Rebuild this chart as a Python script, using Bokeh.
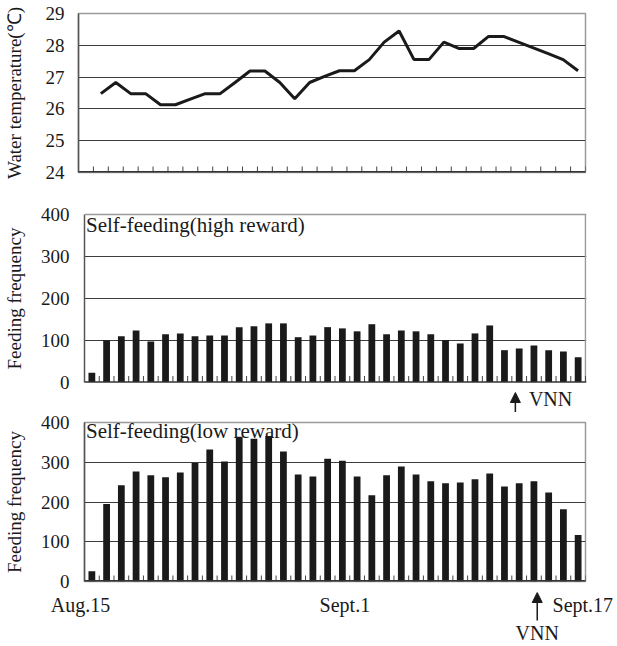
from bokeh.plotting import figure
from bokeh.layouts import column
from bokeh.models import Range1d, FixedTicker, Arrow, NormalHead, Span
from bokeh.core.properties import value
from bokeh.embed import file_html
from bokeh.resources import INLINE

# ---- data: daily values, Aug.15 .. Sept.17 (34 days) ----
n_days = 34
days = list(range(n_days))
temp_days = days[1:]  # temperature recorded from Aug.16
water_temp = [26.48, 26.83, 26.48, 26.48, 26.13, 26.13, 26.31, 26.48, 26.48, 26.83,
              27.19, 27.19, 26.83, 26.32, 26.83, 27.02, 27.20, 27.20, 27.55, 28.10,
              28.45, 27.55, 27.55, 28.10, 27.90, 27.90, 28.28, 28.28, 28.10, 27.92,
              27.74, 27.55, 27.20]
high_reward = [22, 100, 109, 123, 97, 114, 116, 109, 111, 111,
               131, 133, 140, 140, 107, 111, 131, 128, 121, 138,
               114, 123, 121, 114, 100, 92, 116, 135, 76, 80,
               87, 76, 73, 59]
low_reward = [26, 195, 242, 277, 267, 262, 274, 298, 332, 302,
              364, 359, 366, 327, 269, 264, 309, 304, 264, 217,
              267, 289, 269, 252, 247, 249, 257, 272, 239, 247,
              252, 224, 182, 117]
temp_ticks = [24, 25, 26, 27, 28, 29]
freq_ticks = [0, 100, 200, 300, 400]
date_labels = ["Aug.15", "Sept.1", "Sept.17"]
date_pos = [0.0, 17.8, 31.78]         # day-axis position of each date label
vnn_day_high = 29.24                  # VNN event markers (day axis)
vnn_day_low = 30.75

FONT = "Liberation Serif"
INK = "#1a1a1a"
GRID = "#3c3c3c"
FRAME = "#9a9a9a"
AXIS = "#333333"
FS = "19px"
FS_NOTE = "21px"
FS_DATE = "20px"

W = 617
x_temp = [d + 0.5 for d in temp_days]
x_bar = [d + 0.5 for d in days]
bounds = list(range(n_days + 1))      # day boundaries -> x tick marks


def base_fig(height, left, right, top, bottom, xr, yr):
    p = figure(width=W, height=height, output_backend="svg", toolbar_location=None,
               x_range=xr, y_range=yr,
               min_border_left=left, min_border_right=right,
               min_border_top=top, min_border_bottom=bottom)
    p.frame_align = False
    p.background_fill_color = "white"
    p.border_fill_color = "white"
    p.xaxis.visible = False
    p.xgrid.visible = False
    return p


def style_y(p, yticks, ylabel, label_standoff, axis_standoff):
    p.yaxis.ticker = FixedTicker(ticks=yticks)
    p.yaxis.major_tick_in = 0
    p.yaxis.major_tick_out = 0
    p.yaxis.minor_tick_in = 0
    p.yaxis.minor_tick_out = 0
    p.yaxis.axis_line_color = "#555555"
    p.yaxis.axis_line_width = 1.5
    p.yaxis.major_label_text_font = FONT
    p.yaxis.major_label_text_font_size = FS
    p.yaxis.major_label_text_color = INK
    p.yaxis.major_label_standoff = label_standoff
    p.yaxis.axis_label = ylabel
    p.yaxis.axis_label_text_font = FONT
    p.yaxis.axis_label_text_font_size = FS
    p.yaxis.axis_label_text_font_style = "normal"
    p.yaxis.axis_label_text_color = INK
    p.yaxis.axis_label_standoff = axis_standoff
    p.ygrid.ticker = FixedTicker(ticks=yticks[1:-1])
    p.ygrid.grid_line_color = GRID
    p.ygrid.grid_line_width = 1


def day_ticks(p, y0, units_per_px):
    tick_len = 6 * units_per_px
    p.segment(x0=bounds, y0=[y0] * len(bounds), x1=bounds,
              y1=[y0 + tick_len] * len(bounds), line_color="#444444", line_width=1)


# ---------------- top: water temperature ----------------
H1, T1, F1 = 184, 13, 159
p1 = base_fig(H1, 77, 32, T1, H1 - T1 - F1, Range1d(0, n_days), Range1d(24, 29))
p1.outline_line_color = FRAME
p1.outline_line_width = 1.5
style_y(p1, temp_ticks, "Water temperature(\u2103)", 14, 18)
p1.add_layout(Span(location=24, dimension="width", line_color=AXIS, line_width=3))
day_ticks(p1, 24, 5 / F1)
p1.line(x_temp, water_temp, line_color=INK, line_width=3)

# ---------------- middle: high reward ----------------
# frame is padded equally above 400 and below 0 so the VNN marker fits under the axis
H2 = 228                          # canvas 184 .. 412
px400 = 167.5                     # pixels for 0..400
upp2 = 400 / px400
pad_top = 30                      # px of frame above the 400 line
pad_bot = H2 - pad_top - px400    # px of frame below the zero line
xs2 = n_days / 505
p2 = base_fig(H2, 80, 31, 0, 0, Range1d(0, n_days + 1 * xs2),
              Range1d(-pad_bot * upp2, 400 + pad_top * upp2))
p2.outline_line_color = None
style_y(p2, freq_ticks, "Feeding frequency", 15, 13)
p2.yaxis.bounds = (0, 400)
p2.add_layout(Span(location=400, dimension="width", line_color=FRAME, line_width=1.5))
p2.add_layout(Span(location=0, dimension="width", line_color=AXIS, line_width=1.5))
p2.segment(x0=[n_days], y0=[0], x1=[n_days], y1=[400], line_color=FRAME, line_width=1.5)
day_ticks(p2, 0, upp2)
p2.text(x=[0.1], y=[375], text=["Self-feeding(high reward)"], text_baseline="alphabetic",
        text_font=value(FONT), text_font_size=FS_NOTE, text_color=INK)
p2.vbar(x=x_bar, top=high_reward, width=0.46, fill_color=INK, line_color=None)
p2.add_layout(Arrow(end=NormalHead(size=10, fill_color=INK, line_color=INK),
                    x_start=vnn_day_high, y_start=-pad_bot * upp2,
                    x_end=vnn_day_high, y_end=-10.5 * upp2,
                    line_color=INK, line_width=1.5))
p2.text(x=[vnn_day_high + 0.92], y=[-16.5 * upp2], text=["VNN"],
        text_baseline="alphabetic", text_font=value(FONT), text_font_size=FS_DATE,
        text_color=INK)

# ---------------- bottom: low reward ----------------
H3, T3, F3 = 180, 10, 159         # canvas 412 .. 592
p3 = base_fig(H3, 80, 32, T3, H3 - T3 - F3, Range1d(0, n_days), Range1d(0, 400))
p3.outline_line_color = FRAME
p3.outline_line_width = 1.5
style_y(p3, freq_ticks, "Feeding frequency", 15, 13)
p3.add_layout(Span(location=0, dimension="width", line_color=AXIS, line_width=3))
day_ticks(p3, 0, 400 / F3)
p3.text(x=[0.1], y=[378], text=["Self-feeding(low reward)"], text_baseline="alphabetic",
        text_font=value(FONT), text_font_size=FS_NOTE, text_color=INK)
p3.vbar(x=x_bar, top=low_reward, width=0.46, fill_color=INK, line_color=None)

# ---------------- strip under the bottom panel: dates + VNN ----------------
H4 = 54                           # canvas 592 .. 646
sc = 505 / n_days                 # px per day in the lower panels
s3 = figure(width=W, height=H4, output_backend="svg", toolbar_location=None,
            x_range=Range1d(-80 / sc, n_days + 32 / sc), y_range=Range1d(H4, 0),
            min_border=0, min_border_left=0, min_border_right=0,
            min_border_top=0, min_border_bottom=0)
s3.frame_align = False
s3.axis.visible = False
s3.grid.visible = False
s3.outline_line_color = None
s3.background_fill_color = "white"
s3.border_fill_color = "white"
s3.text(x=date_pos[:2], y=[12, 12], text=date_labels[:2], text_align="center",
        text_baseline="alphabetic", text_font=value(FONT), text_font_size=FS_DATE,
        text_color=INK)
s3.text(x=date_pos[2:], y=[12], text=date_labels[2:], text_align="left",
        text_baseline="alphabetic", text_font=value(FONT), text_font_size=FS_DATE,
        text_color=INK)
s3.add_layout(Arrow(end=NormalHead(size=10, fill_color=INK, line_color=INK),
                    x_start=vnn_day_low, y_start=28, x_end=vnn_day_low, y_end=0,
                    line_color=INK, line_width=1.5))
s3.text(x=[vnn_day_low], y=[40], text=["VNN"], text_align="center",
        text_baseline="alphabetic", text_font=value(FONT), text_font_size=FS_DATE,
        text_color=INK)

layout = column(p1, p2, p3, s3, spacing=0)
open("out.html", "w").write(file_html(layout, INLINE))
